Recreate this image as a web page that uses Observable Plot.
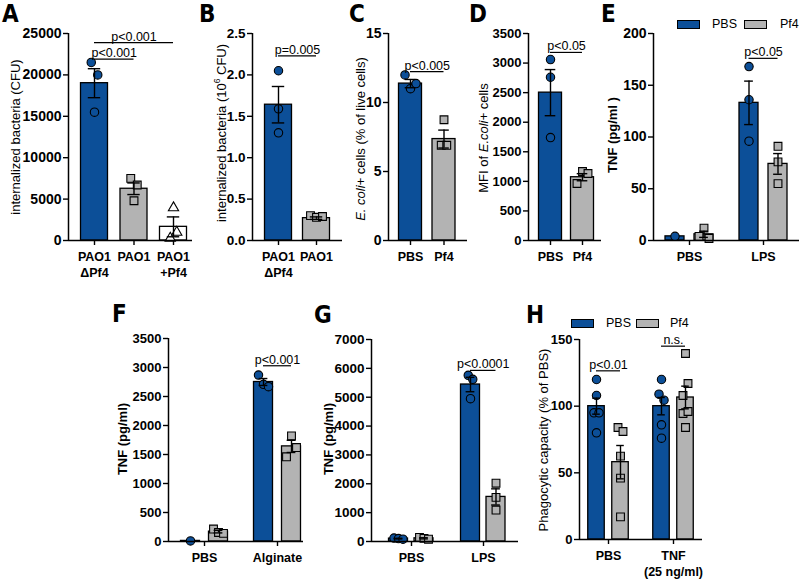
<!DOCTYPE html>
<html><head><meta charset="utf-8">
<script src="https://cdn.jsdelivr.net/npm/d3@7"></script>
<script src="https://cdn.jsdelivr.net/npm/@observablehq/plot@0.6"></script>
<style>
body{margin:0;background:#fff;}
#root{position:relative;width:800px;height:579px;overflow:hidden;background:#fff;font-family:"Liberation Sans",Arial,Helvetica,sans-serif;color:#000;}
.panel{position:absolute;}
.letter{position:absolute;font-family:"Liberation Sans Narrow","DejaVu Sans Condensed",sans-serif;font-weight:bold;font-size:24px;line-height:24px;}
.ylab{position:absolute;transform:translate(-50%,-50%) rotate(-90deg);white-space:nowrap;font-size:13px;line-height:13px;}
.sw{position:absolute;width:21px;height:7px;border:1px solid #000;}
.lt{position:absolute;font-size:12.5px;line-height:12px;}
</style>
</head><body>
<div id="root"></div>
<script>
const BLUE = "#0c4f98", GRAY = "#b3b3b3";

// ---------- Panel A ----------
const aLabels = ["PAO1\nΔPf4", "PAO1", "PAO1\n+Pf4"];
const aMeans = [19000, 6250, 1650];
const aSems = [1750, 700, 1200];
const aPoints = [[21500, 20000, 15500], [7500, 6700, 4800], [3950, 280, 1000]];
const aTicks = [0, 5000, 10000, 15000, 20000, 25000];
const aSig = [{from: 0, to: 1, y: 21900, text: "p<0.001"}, {from: 0, to: 2, y: 23900, text: "p<0.001"}];

// ---------- Panel B ----------
const bLabels = ["PAO1\nΔPf4", "PAO1"];
const bMeans = [1.64, 0.27];
const bSems = [0.22, 0.015];
const bPoints = [[2.05, 1.59, 1.30], [0.30, 0.28, 0.29]];
const bTicks = [0, 0.5, 1.0, 1.5, 2.0, 2.5];
const bSig = [{from: 0, to: 1, y: 2.23, text: "p=0.005"}];

// ---------- Panel C ----------
const cLabels = ["PBS", "Pf4"];
const cMeans = [11.37, 7.35];
const cSems = [0.3, 0.65];
const cPoints = [[12.0, 11.0, 11.37], [8.75, 6.9, 6.9]];
const cTicks = [0, 5, 10, 15];
const cSig = [{from: 0, to: 1, y: 12.24, text: "p<0.005"}];

// ---------- Panel D ----------
const dLabels = ["PBS", "Pf4"];
const dMeans = [2500, 1070];
const dSems = [390, 60];
const dPoints = [[3060, 2760, 1740], [964, 1167, 1133]];
const dTicks = [0, 500, 1000, 1500, 2000, 2500, 3000, 3500];
const dSig = [{from: 0, to: 1, y: 3180, text: "p<0.05"}];

// ---------- Panel E ----------
const eGroups = ["PBS", "LPS"];
const ePBSMeans = [4, 133];
const ePBSSems = [0, 21];
const ePBSPoints = [[4], [168, 136, 96]];
const ePf4Means = [6, 74];
const ePf4Sems = [3, 10];
const ePf4Points = [[4, 12, 2], [91, 76, 55]];
const eTicks = [0, 50, 100, 150, 200];
const eSig = [{group: 1, y: 176, text: "p<0.05"}];

// ---------- Panel F ----------
const fGroups = ["PBS", "Alginate"];
const fPBSMeans = [10, 2750];
const fPBSSems = [0, 60];
const fPBSPoints = [[10], [2870, 2710, 2670]];
const fPf4Means = [170, 1640];
const fPf4Sems = [22, 105];
const fPf4Points = [[215, 155, 140], [1460, 1820, 1620]];
const fTicks = [0, 500, 1000, 1500, 2000, 2500, 3000, 3500];
const fSig = [{group: 1, y: 3030, text: "p<0.001"}];

// ---------- Panel G ----------
const gGroups = ["PBS", "LPS"];
const gPBSMeans = [100, 5440];
const gPBSSems = [12, 250];
const gPBSPoints = [[120, 100, 80], [5760, 5620, 4950]];
const gPf4Means = [110, 1545];
const gPf4Sems = [20, 280];
const gPf4Points = [[140, 110, 80], [2020, 1530, 1090]];
const gTicks = [0, 1000, 2000, 3000, 4000, 5000, 6000, 7000];
const gSig = [{group: 1, y: 5930, text: "p<0.0001"}];

// ---------- Panel H ----------
const hGroups = ["PBS", "TNF\n(25 ng/ml)"];
const hPBSMeans = [100, 100];
const hPBSSems = [6, 6.5];
const hPBSPoints = [[120, 108, 95, 95, 80], [120, 109, 104.5, 86, 76]];
const hPf4Means = [58, 106.5];
const hPf4Sems = [12.5, 8.5];
const hPf4Points = [[84, 81, 62.5, 46, 17], [139.5, 108, 117, 94.5, 96, 84]];
const hTicks = [0, 50, 100, 150];
const hSig = [{group: 0, y: 126.5, text: "p<0.01"}, {group: 1, y: 145, text: "n.s."}];

// ---------- layout (pixels) ----------
const layout = {
  A: {axisX: 68, xEnd: 192, yTop: 33, yBase: 240, c0: 94, groupPx: 39.5, seriesPx: [0], barW: 27, jitter: 6.5, tickFont: 14},
  B: {axisX: 252, xEnd: 342, yTop: 33, yBase: 240, c0: 278, groupPx: 38, seriesPx: [0], barW: 27, jitter: 6, tickFont: 13.5},
  C: {axisX: 388, xEnd: 467, yTop: 33, yBase: 240, c0: 410, groupPx: 33.5, seriesPx: [0], barW: 23, jitter: 5.5, tickFont: 14},
  D: {axisX: 528, xEnd: 601, yTop: 33, yBase: 240, c0: 550, groupPx: 32, seriesPx: [0], barW: 23, jitter: 5.5, tickFont: 13},
  E: {axisX: 653, xEnd: 799, yTop: 33, yBase: 240, c0: 689, groupPx: 74, seriesPx: [-14.5, 14.5], barW: 19, jitter: 5, tickFont: 14},
  F: {axisX: 168, xEnd: 303, yTop: 338, yBase: 541, c0: 204, groupPx: 73, seriesPx: [-14, 14], barW: 19, jitter: 5, tickFont: 13},
  G: {axisX: 371, xEnd: 518, yTop: 339, yBase: 541, c0: 411, groupPx: 72, seriesPx: [-13, 12.5], barW: 19, jitter: 4.5, tickFont: 13.5},
  H: {axisX: 579, xEnd: 702, yTop: 339, yBase: 539, c0: 608, groupPx: 65, seriesPx: [-12, 12], barW: 16.5, jitter: 5, tickFont: 13}
};

const root = document.getElementById("root");

function singleBars(means, sems, points, fills, symbols, pfills) {
  return means.map((m, i) => ({g: i, s: 0, mean: m, sem: sems[i], points: points[i], fill: fills[i], symbol: symbols[i], pointFill: pfills[i]}));
}
function groupedBars(m0, s0, p0, m1, s1, p1) {
  const out = [];
  m0.forEach((m, g) => out.push({g, s: 0, mean: m, sem: s0[g], points: p0[g], fill: BLUE, symbol: "circle", pointFill: BLUE}));
  m1.forEach((m, g) => out.push({g, s: 1, mean: m, sem: s1[g], points: p1[g], fill: GRAY, symbol: "square", pointFill: GRAY}));
  return out;
}

function drawPanel(L, bars, sigs, yMax, yTicks, yFmt, xLabels) {
  const ml = 52, mr = 4, mt = 30, mb = 44;
  const u = px => px / L.groupPx;
  const cx = (g, s) => g + u(L.seriesPx[s]);
  const x0 = (L.axisX - L.c0) / L.groupPx, x1 = (L.xEnd - L.c0) / L.groupPx;
  const Hh = L.yBase - L.yTop;
  const yPx = v => v / yMax * Hh;
  const rows = bars.map(b => {
    const c = cx(b.g, b.s);
    return {...b, c, left: c - u(L.barW / 2), right: c + u(L.barW / 2),
      lo: b.mean - b.sem, hi: b.mean + b.sem,
      capL: c - u(L.barW * 0.23), capR: c + u(L.barW * 0.23)};
  });
  // dodge points that are close in pixel space
  const pts = [];
  for (const b of rows) {
    const vals = b.points;
    const order = d3.range(vals.length).sort((i, j) => vals[j] - vals[i]);
    const clusters = []; let cur = [];
    for (const i of order) {
      if (cur.length && yPx(vals[cur[cur.length - 1]]) - yPx(vals[i]) > 12.5) { clusters.push(cur); cur = []; }
      cur.push(i);
    }
    if (cur.length) clusters.push(cur);
    for (const cl of clusters) {
      const mem = cl.slice().sort((a, z) => a - z);
      const n = mem.length;
      const sp = n > 1 ? Math.min(L.jitter, (L.barW - 6) / (n - 1)) : 0;
      mem.forEach((i, k) => pts.push({x: b.c + u((k - (n - 1) / 2) * sp), y: vals[i], fill: b.pointFill, symbol: b.symbol}));
    }
  }
  const sigRows = sigs.map(s => {
    const a = s.group !== undefined ? cx(s.group, 0) : cx(s.from, 0);
    const z = s.group !== undefined ? cx(s.group, 1) : cx(s.to, 0);
    return {a, z, m: (a + z) / 2, y: s.y, text: s.text};
  });
  const errs = rows.filter(r => r.sem > 0);
  const symR = {circle: 4.2, square: 4.4, triangle: 3.8};
  const dotMarks = ["circle", "square", "triangle"].map(sym =>
    Plot.dot(pts.filter(p => p.symbol === sym), {x: "x", y: "y", r: symR[sym], symbol: sym, fill: "fill", stroke: "black", strokeWidth: 1.1}));
  const svg = Plot.plot({
    width: L.xEnd - L.axisX + ml + mr,
    height: Hh + mt + mb,
    marginLeft: ml, marginRight: mr, marginTop: mt, marginBottom: mb,
    x: {type: "linear", domain: [x0, x1]},
    y: {domain: [0, yMax]},
    color: {type: "identity"},
    style: {fontFamily: "'Liberation Sans', Arial, sans-serif", fontSize: "12.5px", fontWeight: "bold", background: "transparent", overflow: "visible", color: "black"},
    marks: [
      Plot.rectY(rows, {x1: "left", x2: "right", y1: 0, y2: "mean", fill: "fill", stroke: "black", strokeWidth: 1.3}),
      ...dotMarks,
      Plot.ruleX(errs, {x: "c", y1: "lo", y2: "hi", stroke: "black", strokeWidth: 1.4}),
      Plot.ruleY(errs, {y: "hi", x1: "capL", x2: "capR", stroke: "black", strokeWidth: 1.4}),
      Plot.ruleY(errs, {y: "lo", x1: "capL", x2: "capR", stroke: "black", strokeWidth: 1.4}),
      Plot.ruleY(sigRows, {y: "y", x1: "a", x2: "z", stroke: "black", strokeWidth: 1.2}),
      Plot.text(sigRows, {x: "m", y: "y", text: "text", dy: -2, lineAnchor: "bottom", fontWeight: "normal", fontSize: 12.5}),
      Plot.ruleY([0], {stroke: "black", strokeWidth: 1.5}),
      Plot.ruleX([x0], {stroke: "black", strokeWidth: 1.5}),
      Plot.axisY({ticks: yTicks, tickFormat: yFmt, tickSize: 5, tickPadding: 2, label: null, strokeWidth: 1.4, fontSize: L.tickFont}),
      Plot.axisX({ticks: xLabels.map((_, i) => i), tickFormat: i => xLabels[Math.round(i)], tickSize: 5, tickPadding: 4, label: null, strokeWidth: 1.4, lineHeight: 1.28})
    ]
  });
  svg.classList.add("panel");
  svg.style.left = (L.axisX - ml) + "px";
  svg.style.top = (L.yTop - mt) + "px";
  svg.style.position = "absolute";
  root.appendChild(svg);
}

const fd = d3.format("d"), f1 = d3.format(".1f");

drawPanel(layout.A, singleBars(aMeans, aSems, aPoints, [BLUE, GRAY, "white"], ["circle", "square", "triangle"], [BLUE, GRAY, "white"]), aSig, 25000, aTicks, fd, aLabels);
drawPanel(layout.B, singleBars(bMeans, bSems, bPoints, [BLUE, GRAY], ["circle", "square"], [BLUE, GRAY]), bSig, 2.5, bTicks, f1, bLabels);
drawPanel(layout.C, singleBars(cMeans, cSems, cPoints, [BLUE, GRAY], ["circle", "square"], [BLUE, GRAY]), cSig, 15, cTicks, fd, cLabels);
drawPanel(layout.D, singleBars(dMeans, dSems, dPoints, [BLUE, GRAY], ["circle", "square"], [BLUE, GRAY]), dSig, 3500, dTicks, fd, dLabels);
drawPanel(layout.E, groupedBars(ePBSMeans, ePBSSems, ePBSPoints, ePf4Means, ePf4Sems, ePf4Points), eSig, 200, eTicks, fd, eGroups);
drawPanel(layout.F, groupedBars(fPBSMeans, fPBSSems, fPBSPoints, fPf4Means, fPf4Sems, fPf4Points), fSig, 3500, fTicks, fd, fGroups);
drawPanel(layout.G, groupedBars(gPBSMeans, gPBSSems, gPBSPoints, gPf4Means, gPf4Sems, gPf4Points), gSig, 7000, gTicks, fd, gGroups);
drawPanel(layout.H, groupedBars(hPBSMeans, hPBSSems, hPBSPoints, hPf4Means, hPf4Sems, hPf4Points), hSig, 150, hTicks, fd, hGroups);

// panel letters
const letters = [["A", 2, 2], ["B", 199, 2], ["C", 349, 2], ["D", 469, 2], ["E", 601, 2], ["F", 112, 302], ["G", 314, 303], ["H", 526, 303]];
for (const [t, x, y] of letters) {
  const d = document.createElement("div");
  d.className = "letter"; d.textContent = t;
  d.style.left = x + "px"; d.style.top = y + "px";
  root.appendChild(d);
}

// y-axis titles
const ylabs = [
  ["internalized bacteria (CFU)", 15, 137, "normal"],
  ["internalized bacteria (10<sup style='font-size:8.5px;line-height:0'>6</sup> CFU)", 221, 133, "normal"],
  ["<i>E. coli+</i> cells (% of live cells)", 360, 139, "normal"],
  ["MFI of <i>E.coli+</i> cells", 483, 138, "normal"],
  ["TNF (pg/ml )", 612, 135, "bold"],
  ["TNF (pg/ml)", 122, 439, "bold"],
  ["TNF (pg/ml)", 328, 439, "bold"],
  ["Phagocytic capacity (% of PBS)", 543, 440, "normal"]
];
for (const [html, x, y, w] of ylabs) {
  const d = document.createElement("div");
  d.className = "ylab"; d.innerHTML = html;
  d.style.left = x + "px"; d.style.top = y + "px"; d.style.fontWeight = w;
  root.appendChild(d);
}

// legends
const legendSeries = ["PBS", "Pf4"];
const legendColors = [BLUE, GRAY];
function legend(items) {
  for (const [kind, x, y, i] of items) {
    const d = document.createElement("div");
    if (kind === "sw") { d.className = "sw"; d.style.background = legendColors[i]; d.style.left = x + "px"; d.style.top = (y - 4) + "px"; }
    else { d.className = "lt"; d.textContent = legendSeries[i]; d.style.left = x + "px"; d.style.top = (y - 6) + "px"; }
    root.appendChild(d);
  }
}
legend([["sw", 677, 24, 0], ["t", 712, 24, 0], ["sw", 744, 24, 1], ["t", 780, 24, 1]]);
legend([["sw", 571, 323, 0], ["t", 606, 323, 0], ["sw", 636, 323, 1], ["t", 670, 323, 1]]);
</script>
</body></html>
